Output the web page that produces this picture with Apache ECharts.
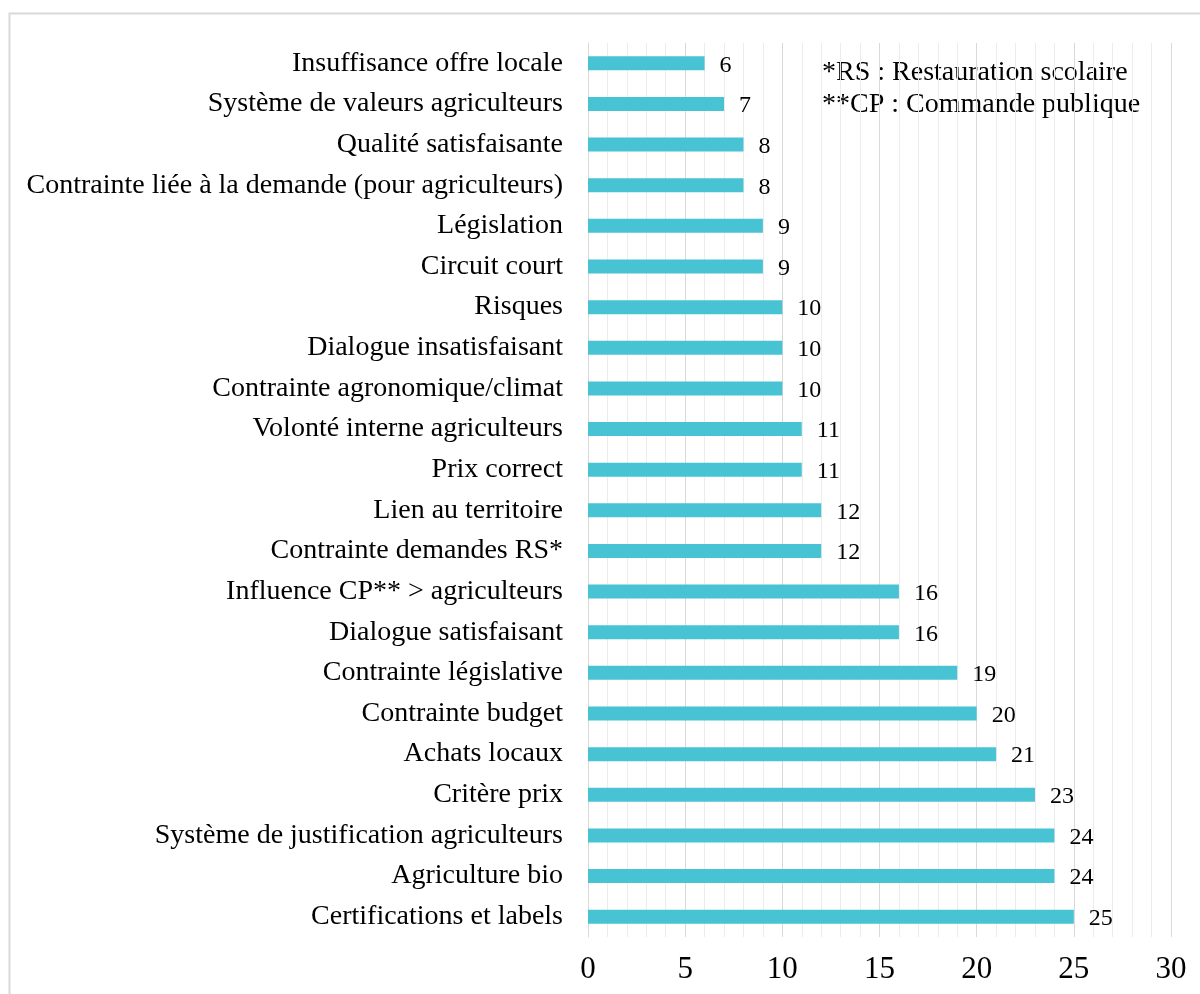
<!DOCTYPE html>
<html>
<head>
<meta charset="utf-8">
<script src="https://cdn.jsdelivr.net/npm/echarts@6/dist/echarts.min.js"></script>
<style>
  html, body { margin: 0; padding: 0; background: #fff; }
  #chart { width: 1200px; height: 994px; }
</style>
</head>
<body>
<div id="chart"></div>
<script>
// categories, top to bottom as shown
const categories = [
  'Insuffisance offre locale',
  'Système de valeurs agriculteurs',
  'Qualité satisfaisante',
  'Contrainte liée à la demande (pour agriculteurs)',
  'Législation',
  'Circuit court',
  'Risques',
  'Dialogue insatisfaisant',
  'Contrainte agronomique/climat',
  'Volonté interne agriculteurs',
  'Prix correct',
  'Lien au territoire',
  'Contrainte demandes RS*',
  'Influence CP** > agriculteurs',
  'Dialogue satisfaisant',
  'Contrainte législative',
  'Contrainte budget',
  'Achats locaux',
  'Critère prix',
  'Système de justification agriculteurs',
  'Agriculture bio',
  'Certifications et labels'
]
const values = [6, 7, 8, 8, 9, 9, 10, 10, 10, 11, 11, 12, 12, 16, 16, 19, 20, 21, 23, 24, 24, 25]
const noteLines = ['*RS : Restauration scolaire', '**CP : Commande publique']

const serif = '"Liberation Serif", "Times New Roman", serif'

const chart = echarts.init(document.getElementById('chart'))
const option = {
  animation: false,
  backgroundColor: '#fff',
  grid: {
    left: 588,
    right: 29,
    top: 43,
    bottom: 57
  },
  xAxis: {
    type: 'value',
    min: 0,
    max: 30,
    interval: 5,
    axisLine: { show: false },
    axisTick: { show: false },
    axisLabel: {
      color: '#000',
      fontFamily: serif,
      fontSize: 31,
      margin: 17
    },
    splitLine: { show: true, lineStyle: { color: '#d9d9d9', width: 1 } },
    minorTick: { show: false, splitNumber: 5 },
    minorSplitLine: { show: true, lineStyle: { color: '#ececec', width: 1 } }
  },
  yAxis: {
    type: 'category',
    inverse: true,
    data: categories,
    axisLine: { show: true, lineStyle: { color: '#d9d9d9', width: 1 } },
    axisTick: { show: false },
    axisLabel: {
      color: '#000',
      fontFamily: serif,
      fontSize: 28,
      margin: 25
    }
  },
  series: [
    {
      type: 'bar',
      data: values,
      barWidth: 14,
      itemStyle: { color: '#47c3d3' },
      label: {
        show: true,
        position: 'right',
        distance: 15,
        offset: [0, 2],
        color: '#000',
        fontFamily: serif,
        fontSize: 24
      }
    }
  ],
  graphic: [
    {
      type: 'rect',
      shape: { x: 9.5, y: 13.5, width: 1300, height: 1100 },
      style: { fill: 'none', stroke: '#d9d9d9', lineWidth: 2 },
      silent: true
    },
    {
      type: 'text',
      left: 822,
      top: 57,
      style: {
        text: noteLines.join('\n'),
        fill: '#000',
        font: '28px ' + serif,
        lineHeight: 32
      }
    }
  ]
}
chart.setOption(option, true)
</script>
</body>
</html>
